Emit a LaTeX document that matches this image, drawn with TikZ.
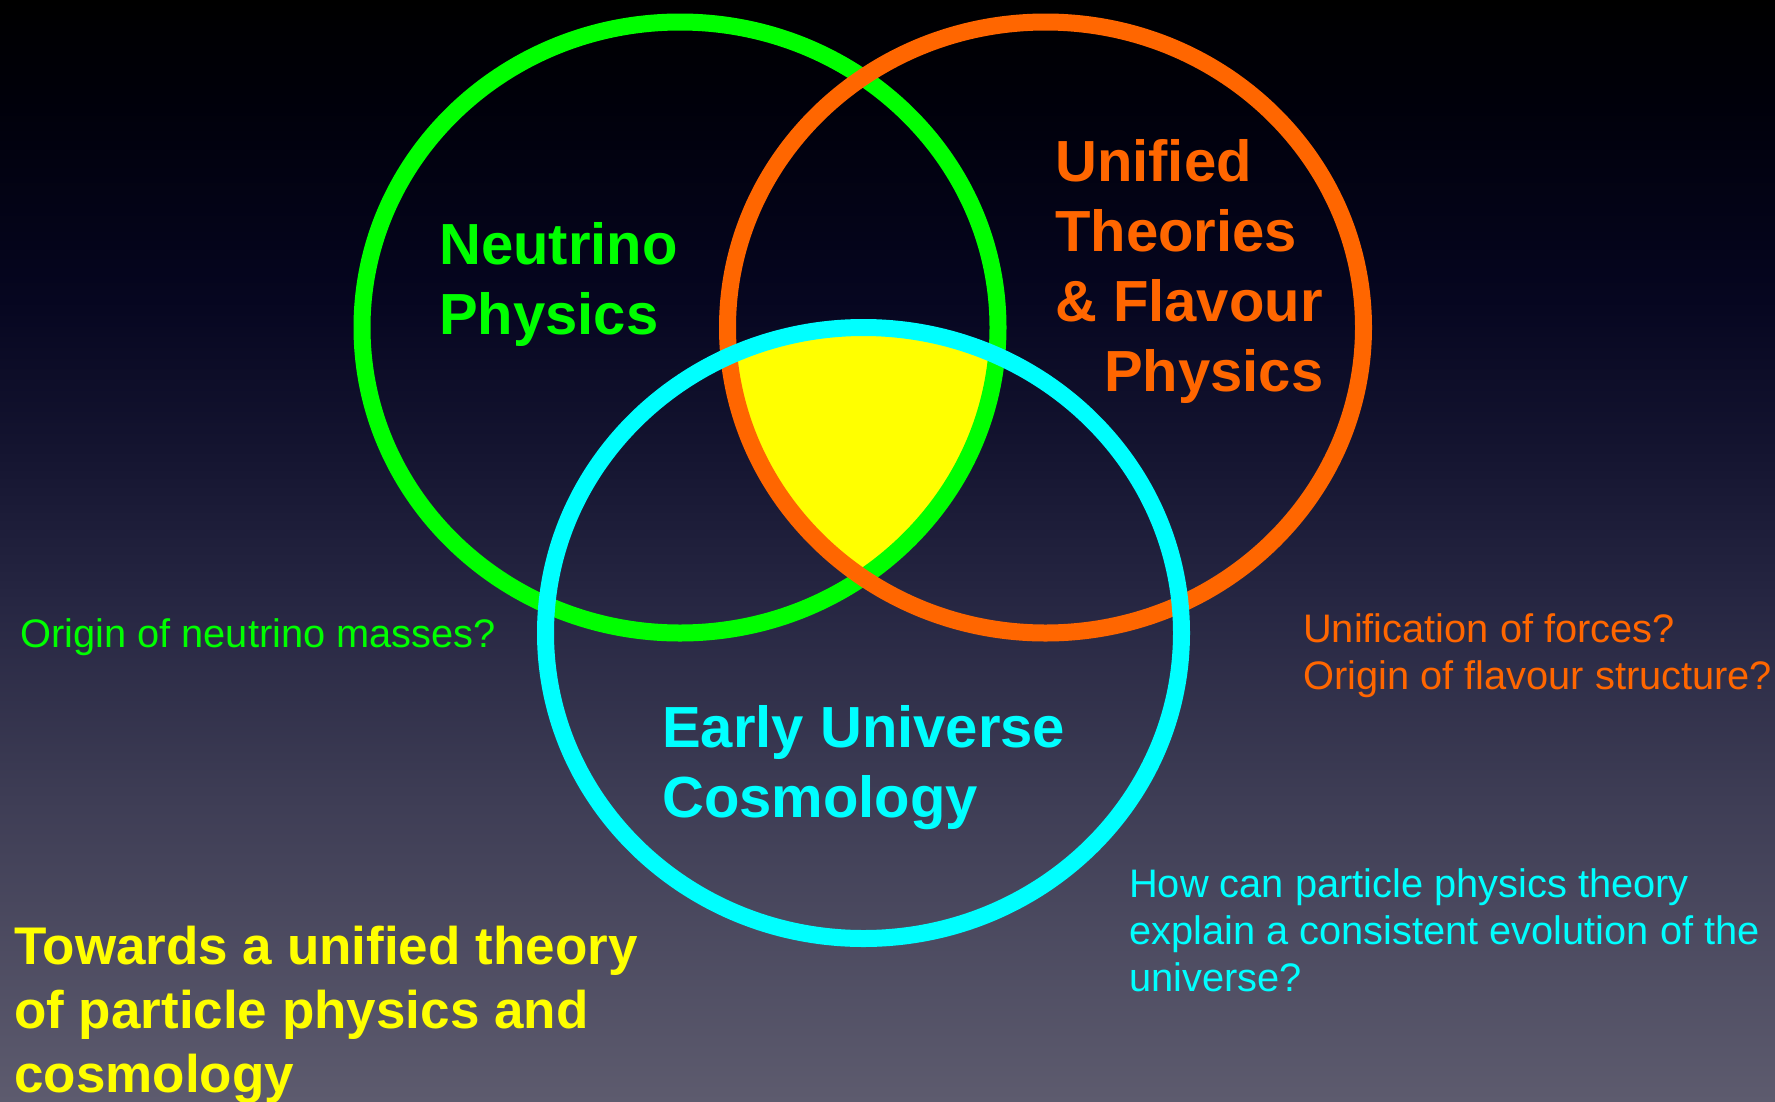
\documentclass[tikz,border=0pt]{standalone}
\usepackage{fontspec}
\setmainfont{Liberation Sans}
\usepackage{tikz}
\usepackage{xcolor}
\usetikzlibrary{positioning}
\definecolor{nugreen}{HTML}{00FF00}
\definecolor{gutorange}{HTML}{FF6600}
\definecolor{cosmocyan}{HTML}{00FFFF}
\definecolor{coreyellow}{HTML}{FFFF00}
\definecolor{skytop}{RGB}{0,0,0}
\definecolor{sky1}{RGB}{0,0,10}
\definecolor{sky2}{RGB}{6,6,32}
\definecolor{sky3}{RGB}{20,20,48}
\definecolor{sky4}{RGB}{38,38,66}
\definecolor{sky5}{RGB}{62,61,85}
\definecolor{skybot}{RGB}{93,91,110}
\pgfdeclareverticalshading{nightsky}{100bp}{
  color(0bp)=(skybot); color(25bp)=(skybot); color(38.7bp)=(sky5);
  color(47.7bp)=(sky4); color(54.6bp)=(sky3); color(61.4bp)=(sky2);
  color(70.5bp)=(sky1); color(75bp)=(skytop); color(100bp)=(skytop)}
\tikzset{
  vennsize/.style={x radius=318pt,y radius=305.5pt},
  ring/.style={line width=17pt},
  bigtitle/.style={font=\fontsize{58}{70}\selectfont\bfseries,
                   align=left,inner sep=0pt,anchor=base west},
  question/.style={font=\fontsize{39.8}{47}\selectfont,
                   align=left,inner sep=0pt,anchor=base west},
  goal/.style={font=\fontsize{53}{64}\selectfont\bfseries,color=coreyellow,
               align=left,inner sep=0pt,anchor=base west}
}

\begin{document}
\begin{tikzpicture}[x=1pt,y=-1pt]
  \useasboundingbox (0,0) rectangle (1775,1101);
  \shade[shading=nightsky] (0,0) rectangle (1775,1101);
  \coordinate (nu) at (680,327.5);
  \coordinate (gut) at (1045.5,327.5);
  \coordinate (cosmo) at (863.5,633);
  % common core of all three fields
  \begin{scope}
    \clip (nu) ellipse [vennsize];
    \clip (gut) ellipse [vennsize];
    \fill[coreyellow] (cosmo) ellipse [vennsize];
  \end{scope}
  \draw[ring,nugreen] (nu) ellipse [vennsize];
  \draw[ring,gutorange] (gut) ellipse [vennsize];
  \draw[ring,cosmocyan] (cosmo) ellipse [vennsize];
  % field names (placed at the baseline of their last line)
  \node[bigtitle,nugreen] (nutitle) at (439,334) {Neutrino\\Physics};
  \node[bigtitle,gutorange] (guttitle) at (1055,391)
    {Unified\\Theories\\\& Flavour\\\hspace*{49pt}Physics};
  \node[bigtitle,cosmocyan] (cosmotitle) at (662,817) {Early Universe\\Cosmology};
  % open questions
  \node[question,nugreen] (nuquest) at (20,647) {Origin of neutrino masses?};
  \node[question,gutorange] (gutquest) at (1303,689)
    {Unification of forces?\\Origin of flavour structure?};
  \node[question,cosmocyan] (cosmoquest) at (1129,991)
    {How can particle physics theory\\explain a consistent evolution of the\\universe?};
  \node[goal] (goaltext) at (14,1092)
    {Towards a unified theory\\of particle physics and\\cosmology};
\end{tikzpicture}
\end{document}
